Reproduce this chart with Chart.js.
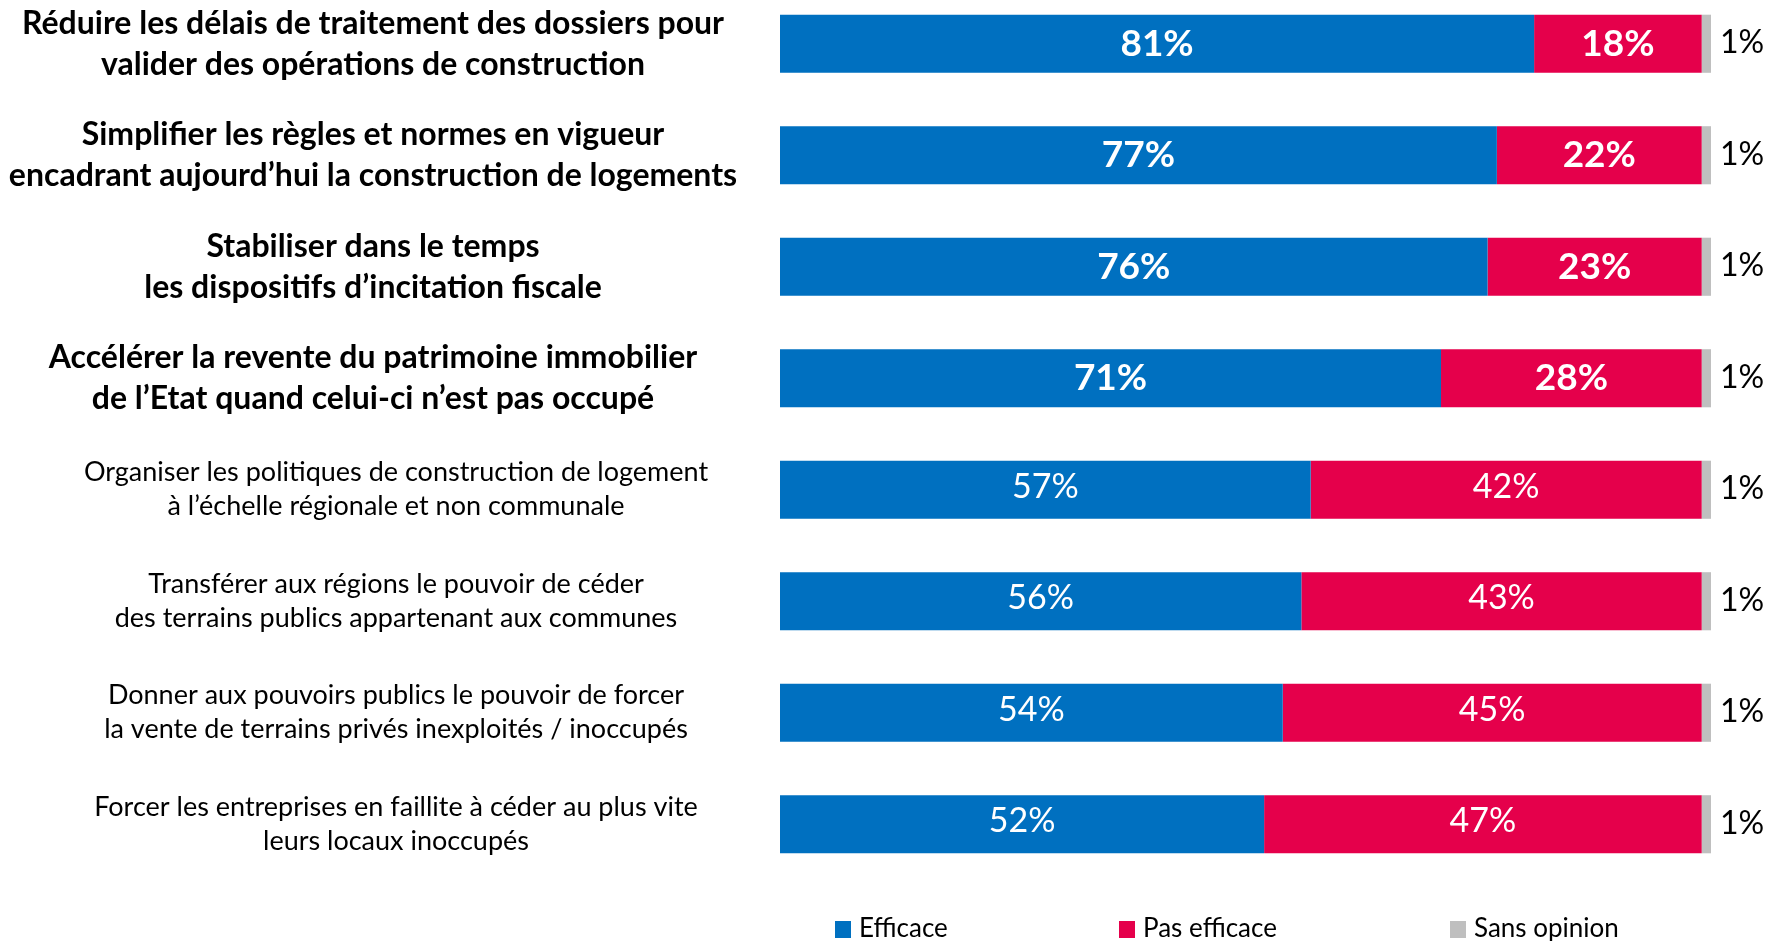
<!DOCTYPE html>
<html lang="fr">
<head>
<meta charset="utf-8">
<title>Efficacité des mesures</title>
<script src="https://cdn.jsdelivr.net/npm/chart.js@4.4.1/dist/chart.umd.min.js"></script>
<style>
  html, body { margin: 0; padding: 0; background: #fff; overflow: hidden; }
  #wrap { position: absolute; left: 0; top: -12px; width: 1781px; height: 953px; }
</style>
</head>
<body>
<div id="wrap"><canvas id="chart"></canvas></div>
<script>
var categories = [
  ['Réduire les délais de traitement des dossiers pour', 'valider des opérations de construction'],
  ['Simplifier les règles et normes en vigueur', 'encadrant aujourd’hui la construction de logements'],
  ['Stabiliser dans le temps', 'les dispositifs d’incitation fiscale'],
  ['Accélérer la revente du patrimoine immobilier', 'de l’Etat quand celui-ci n’est pas occupé'],
  ['Organiser les politiques de construction de logement', 'à l’échelle régionale et non communale'],
  ['Transférer aux régions le pouvoir de céder', 'des terrains publics appartenant aux communes'],
  ['Donner aux pouvoirs publics le pouvoir de forcer', 'la vente de terrains privés inexploités / inoccupés'],
  ['Forcer les entreprises en faillite à céder au plus vite', 'leurs locaux inoccupés']
];
var efficace = [81, 77, 76, 71, 57, 56, 54, 52];
var pasEfficace = [18, 22, 23, 28, 42, 43, 45, 47];
var sansOpinion = [1, 1, 1, 1, 1, 1, 1, 1];
var seriesNames = ['Efficace', 'Pas efficace', 'Sans opinion'];
var seriesColors = ['#0070C0', '#E5004B', '#BFBFBF'];
var boldRows = 4;

(function (window) {
  'use strict';

  var FONT = 'Lato, "Open Sans", sans-serif';

  function font(weight, size) {
    return weight + ' ' + size + 'px ' + FONT;
  }

  // libellés des questions à gauche, centrés sur chaque barre
  var rowLabels = {
    id: 'rowLabels',
    afterDraw: function (chart) {
      var ctx = chart.ctx;
      var y = chart.scales.y;
      ctx.save();
      ctx.fillStyle = '#000';
      ctx.textAlign = 'center';
      ctx.textBaseline = 'middle';
      categories.forEach(function (lines, i) {
        var bold = i < boldRows;
        var cx = bold ? 373 : 396;
        var lh = bold ? 41 : 34;
        ctx.font = bold ? font('bold', 32) : font('normal', 27);
        var yc = y.getPixelForValue(i);
        var top = yc - (lines.length - 1) * lh / 2;
        lines.forEach(function (t, k) { ctx.fillText(t, cx, top + k * lh); });
      });
      ctx.restore();
    }
  };

  // valeurs en % dans / à droite des barres
  var valueLabels = {
    id: 'valueLabels',
    afterDatasetsDraw: function (chart) {
      var ctx = chart.ctx;
      ctx.save();
      ctx.textBaseline = 'middle';
      chart.data.datasets.forEach(function (ds, d) {
        var meta = chart.getDatasetMeta(d);
        meta.data.forEach(function (bar, i) {
          var bold = i < boldRows;
          var txt = ds.data[i] + '%';
          if (d === 2) {
            ctx.font = font('normal', 32);
            ctx.fillStyle = '#000';
            ctx.textAlign = 'left';
            ctx.fillText(txt, bar.x + 9, bar.y - 1);
          } else {
            ctx.font = bold ? font('bold', 37) : font('normal', 34);
            ctx.fillStyle = '#fff';
            ctx.textAlign = 'center';
            ctx.fillText(txt, (bar.x + bar.base) / 2, bar.y - (bold ? 0 : 3));
          }
        });
      });
      ctx.restore();
    }
  };

  // légende du bas, trois entrées espacées comme sur l'original
  var bottomLegend = {
    id: 'bottomLegend',
    afterDraw: function (chart) {
      var ctx = chart.ctx;
      var xs = [835, 1119, 1450];
      var yc = 941;
      ctx.save();
      ctx.font = font('normal', 26);
      ctx.textBaseline = 'middle';
      ctx.textAlign = 'left';
      seriesNames.forEach(function (name, k) {
        ctx.fillStyle = seriesColors[k];
        ctx.fillRect(xs[k], yc - 8, 16, 17);
        ctx.fillStyle = '#000';
        ctx.fillText(name, xs[k] + 24, yc);
      });
      ctx.restore();
    }
  };

  var series = [efficace, pasEfficace, sansOpinion];
  var datasets = series.map(function (vals, k) {
    return {
      label: seriesNames[k],
      data: vals,
      backgroundColor: seriesColors[k],
      borderWidth: 0,
      barPercentage: 1,
      categoryPercentage: 0.521
    };
  });

  new Chart(document.getElementById('chart').getContext('2d'), {
    type: 'bar',
    data: { labels: categories.map(function (c) { return c.join(' '); }), datasets: datasets },
    options: {
      indexAxis: 'y',
      responsive: true,
      maintainAspectRatio: false,
      animation: false,
      layout: { padding: { left: 780, right: 70, top: 0, bottom: 61 } },
      scales: {
        x: { stacked: true, min: 0, max: 100, display: false },
        y: { stacked: true, display: false }
      },
      plugins: { legend: { display: false }, tooltip: { enabled: false } }
    },
    plugins: [rowLabels, valueLabels, bottomLegend]
  });

})(window);
</script>
</body>
</html>
